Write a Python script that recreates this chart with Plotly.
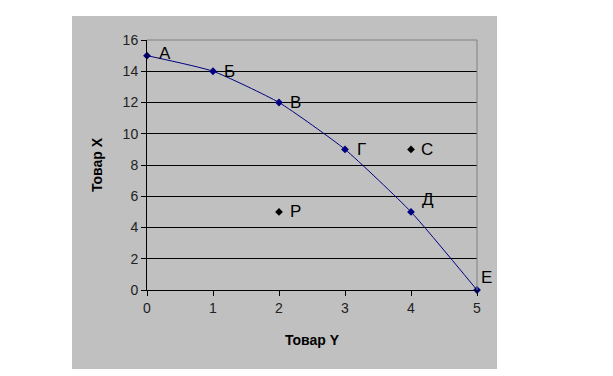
import plotly.graph_objects as go

# Production possibility curve
curve_y_goods = [0, 1, 2, 3, 4, 5]          # Товар Y
curve_x_goods = [15, 14, 12, 9, 5, 0]       # Товар X
curve_labels = ["А", "Б", "В", "Г", "Д", "Е"]

# Separate points
pts_y_goods = [2, 4]
pts_x_goods = [5, 9]
pts_labels = ["Р", "С"]

x_ticks = [0, 1, 2, 3, 4, 5]
y_ticks = [0, 2, 4, 6, 8, 10, 12, 14, 16]

fig = go.Figure()
fig.add_trace(go.Scatter(
    x=curve_y_goods, y=curve_x_goods, mode="lines+markers",
    line=dict(color="#000080", width=1, shape="spline", smoothing=0.5),
    marker=dict(symbol="diamond", size=6, color="#000080"),
    showlegend=False, cliponaxis=False))
fig.add_trace(go.Scatter(
    x=pts_y_goods, y=pts_x_goods, mode="markers",
    marker=dict(symbol="diamond", size=6, color="#000000"),
    showlegend=False, cliponaxis=False))

label_font = dict(family="Liberation Sans, Arial", size=17, color="#000000")
curve_shift = [(18, 2), (16, 0), (16, 0), (16, 0), (17, 12), (9, 13)]
for xv, yv, t, (dx, dy) in zip(curve_y_goods, curve_x_goods, curve_labels, curve_shift):
    fig.add_annotation(x=xv, y=yv, text=t, showarrow=False, font=label_font,
                       xshift=dx, yshift=dy)
for xv, yv, t in zip(pts_y_goods, pts_x_goods, pts_labels):
    fig.add_annotation(x=xv, y=yv, text=t, showarrow=False, font=label_font,
                       xshift=16, yshift=0)

# gray chart area
fig.add_shape(type="rect", xref="paper", yref="paper", layer="below",
              x0=(72 - 147) / 330, x1=(497 - 147) / 330,
              y0=-(369 - 290) / 250, y1=1 + (40 - 16) / 250,
              fillcolor="#c0c0c0", line=dict(width=0))
# top and right border of plot area
fig.add_shape(type="line", xref="paper", yref="paper", x0=0, x1=1, y0=1, y1=1,
              line=dict(color="#808080", width=1))
fig.add_shape(type="line", xref="paper", yref="paper", x0=1, x1=1, y0=0, y1=1,
              line=dict(color="#808080", width=1))

tick_font = dict(family="Liberation Sans, Arial", size=14, color="#222222")
title_font = dict(family="Liberation Sans, Arial", size=14, color="#000000")

fig.update_layout(
    width=605, height=368,
    margin=dict(l=139, r=136, t=32, b=86),
    paper_bgcolor="#ffffff", plot_bgcolor="#c0c0c0",
    xaxis=dict(range=[0, 5], tickvals=x_ticks, ticks="outside", ticklen=5,
               tickcolor="#000000", showline=True, linecolor="#000000", linewidth=1,
               showgrid=False, zeroline=False, tickfont=tick_font, automargin=False,
               title=dict(text="<b>Товар Y</b>", font=title_font, standoff=20)),
    yaxis=dict(range=[0, 16], tickvals=y_ticks, ticks="outside", ticklen=5,
               tickcolor="#000000", showline=True, linecolor="#000000", linewidth=1,
               showgrid=True, gridcolor="#000000", gridwidth=1, zeroline=False,
               tickfont=tick_font, automargin=False,
               title=dict(text="<b>Товар X</b>", font=title_font, standoff=16)),
)

fig.write_html("out.html")
